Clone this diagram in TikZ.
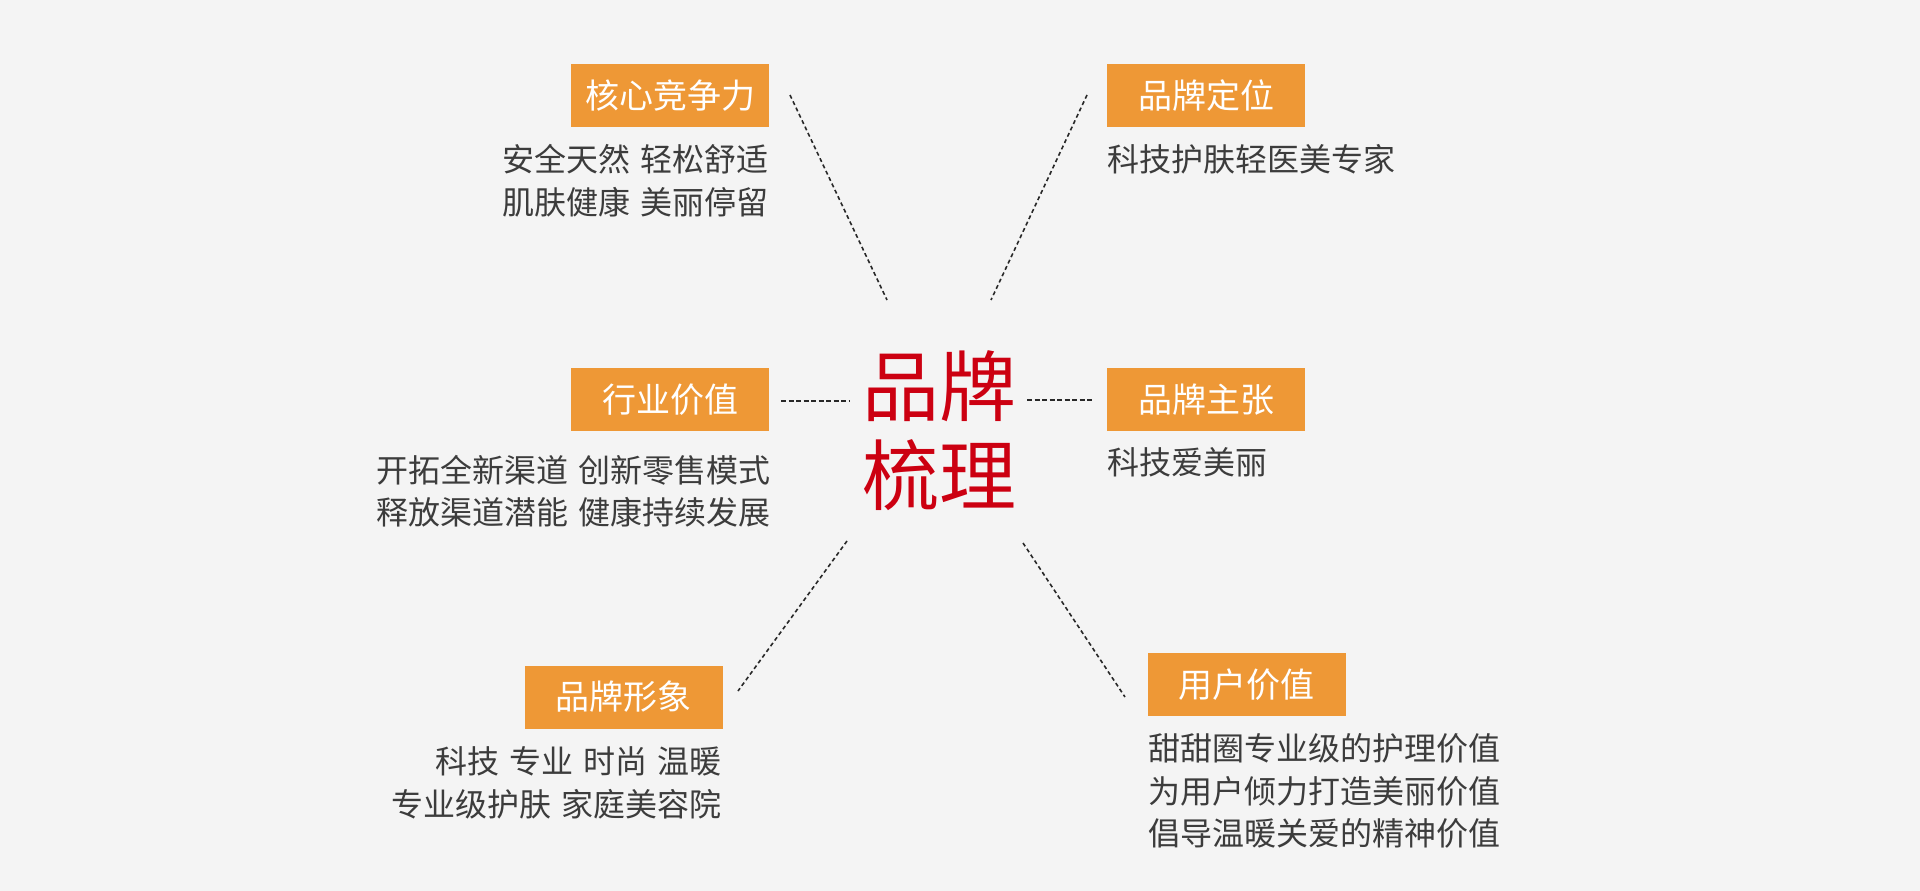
\documentclass[tikz,border=0pt]{standalone}
\usepackage{fontspec}
\setmainfont{Noto Sans CJK SC}
\definecolor{bgc}{RGB}{244,244,244}
\definecolor{orangec}{RGB}{238,152,54}
\definecolor{redc}{RGB}{204,0,17}
\definecolor{textc}{RGB}{60,60,60}
\definecolor{linec}{RGB}{40,40,40}
\begin{document}
\begin{tikzpicture}[x=1pt,y=-1pt,
  tag/.style={fill=orangec, text=white, minimum width=198pt, minimum height=63pt, inner sep=0pt, font=\fontsize{34}{40}\selectfont},
  bodyr/.style={text=textc, inner sep=0pt, anchor=east, font=\fontsize{32}{40}\selectfont},
  bodyl/.style={text=textc, inner sep=0pt, anchor=west, font=\fontsize{32}{40}\selectfont},
  title/.style={text=redc, inner sep=0pt, font=\fontsize{77}{90}\selectfont},
  link/.style={draw=linec, line width=1.6pt, dash pattern=on 4pt off 3pt},
  hlink/.style={draw=linec, line width=1.6pt, dash pattern=on 5pt off 2.5pt}]
\fill[bgc] (0,0) rectangle (1920,891);
\useasboundingbox (0,0) rectangle (1920,891);

% center title
\node[title] (t1) at (939,386) {品牌};
\node[title] (t2) at (939,475) {梳理};

% tags
\node[tag] (hx) at (670,95.5) {核心竞争力};
\node[tag] (dw) at (1206,95.5) {品牌定位};
\node[tag] (hy) at (670,399.5) {行业价值};
\node[tag] (zz) at (1206,399.5) {品牌主张};
\node[tag] (xx) at (623.5,697) {品牌形象};
\node[tag] (yh) at (1246.5,684.5) {用户价值};

% body texts
\node[bodyr] (hx1) at (769,159) {安全天然\hspace{10pt}轻松舒适};
\node[bodyr] (hx2) at (769,202) {肌肤健康\hspace{10pt}美丽停留};
\node[bodyl] (dw1) at (1107,159) {科技护肤轻医美专家};
\node[bodyr] (hy1) at (771,470) {开拓全新渠道\hspace{10pt}创新零售模式};
\node[bodyr] (hy2) at (771,512) {释放渠道潜能\hspace{10pt}健康持续发展};
\node[bodyl] (zz1) at (1107,462) {科技爱美丽};
\node[bodyr] (xx1) at (722,761) {科技\hspace{10pt}专业\hspace{10pt}时尚\hspace{10pt}温暖};
\node[bodyr] (xx2) at (722,804) {专业级护肤\hspace{10pt}家庭美容院};
\node[bodyl] (yh1) at (1148,748) {甜甜圈专业级的护理价值};
\node[bodyl] (yh2) at (1148,791) {为用户倾力打造美丽价值};
\node[bodyl] (yh3) at (1148,833) {倡导温暖关爱的精神价值};

% connector endpoints
\coordinate (a1) at (790,95);
\coordinate (b1) at (887,300);
\coordinate (a2) at (1087,95);
\coordinate (b2) at (991,300);
\coordinate (a3) at (781,401);
\coordinate (b3) at (849,401);
\coordinate (a4) at (1027,400);
\coordinate (b4) at (1094,400);
\coordinate (a5) at (847,541);
\coordinate (b5) at (738,691);
\coordinate (a6) at (1023,543);
\coordinate (b6) at (1125,697);

\draw[link] (a1) -- (b1);
\draw[link] (a2) -- (b2);
\draw[hlink] (a3) -- (b3);
\draw[hlink] (a4) -- (b4);
\draw[link] (a5) -- (b5);
\draw[link] (a6) -- (b6);
\end{tikzpicture}
\end{document}
